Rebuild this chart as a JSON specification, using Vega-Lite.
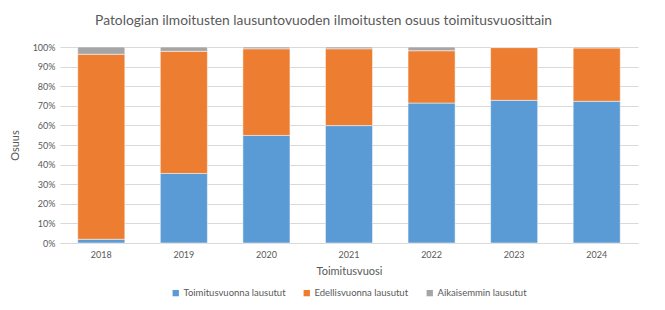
{
  "$schema": "https://vega.github.io/schema/vega-lite/v6.json",
  "width": 578,
  "height": 196,
  "padding": {"left": 9, "top": 14, "right": 27, "bottom": 5},
  "background": "white",
  "title": {
    "text": "Patologian ilmoitusten lausuntovuoden ilmoitusten osuus toimitusvuosittain",
    "font": "Lato",
    "fontSize": 13.8,
    "fontWeight": "normal",
    "color": "#595959",
    "anchor": "middle",
    "frame": "bounds",
    "offset": 15
  },
  "data": {
    "values": [
      {"vuosi": "2018", "ryhma": "Toimitusvuonna lausutut", "j": 1, "osuus": 0.019},
      {"vuosi": "2018", "ryhma": "Edellisvuonna lausutut", "j": 2, "osuus": 0.944},
      {"vuosi": "2018", "ryhma": "Aikaisemmin lausutut", "j": 3, "osuus": 0.037},
      {"vuosi": "2019", "ryhma": "Toimitusvuonna lausutut", "j": 1, "osuus": 0.355},
      {"vuosi": "2019", "ryhma": "Edellisvuonna lausutut", "j": 2, "osuus": 0.623},
      {"vuosi": "2019", "ryhma": "Aikaisemmin lausutut", "j": 3, "osuus": 0.022},
      {"vuosi": "2020", "ryhma": "Toimitusvuonna lausutut", "j": 1, "osuus": 0.549},
      {"vuosi": "2020", "ryhma": "Edellisvuonna lausutut", "j": 2, "osuus": 0.442},
      {"vuosi": "2020", "ryhma": "Aikaisemmin lausutut", "j": 3, "osuus": 0.009},
      {"vuosi": "2021", "ryhma": "Toimitusvuonna lausutut", "j": 1, "osuus": 0.599},
      {"vuosi": "2021", "ryhma": "Edellisvuonna lausutut", "j": 2, "osuus": 0.392},
      {"vuosi": "2021", "ryhma": "Aikaisemmin lausutut", "j": 3, "osuus": 0.009},
      {"vuosi": "2022", "ryhma": "Toimitusvuonna lausutut", "j": 1, "osuus": 0.714},
      {"vuosi": "2022", "ryhma": "Edellisvuonna lausutut", "j": 2, "osuus": 0.267},
      {"vuosi": "2022", "ryhma": "Aikaisemmin lausutut", "j": 3, "osuus": 0.019},
      {"vuosi": "2023", "ryhma": "Toimitusvuonna lausutut", "j": 1, "osuus": 0.728},
      {"vuosi": "2023", "ryhma": "Edellisvuonna lausutut", "j": 2, "osuus": 0.269},
      {"vuosi": "2023", "ryhma": "Aikaisemmin lausutut", "j": 3, "osuus": 0.003},
      {"vuosi": "2024", "ryhma": "Toimitusvuonna lausutut", "j": 1, "osuus": 0.723},
      {"vuosi": "2024", "ryhma": "Edellisvuonna lausutut", "j": 2, "osuus": 0.272},
      {"vuosi": "2024", "ryhma": "Aikaisemmin lausutut", "j": 3, "osuus": 0.005}
    ]
  },
  "mark": {"type": "bar", "stroke": "white", "strokeWidth": 0.5},
  "encoding": {
    "x": {
      "field": "vuosi",
      "type": "ordinal",
      "title": "Toimitusvuosi",
      "scale": {"paddingInner": 0.43, "paddingOuter": 0.215},
      "axis": {
        "labelAngle": 0,
        "ticks": false,
        "domainColor": "#D9D9D9",
        "labelPadding": 7,
        "titlePadding": 6
      }
    },
    "y": {
      "field": "osuus",
      "type": "quantitative",
      "stack": "zero",
      "title": "Osuus",
      "scale": {"domain": [0, 1]},
      "axis": {
        "format": ".0%",
        "values": [0, 0.1, 0.2, 0.3, 0.4, 0.5, 0.6, 0.7, 0.8, 0.9, 1],
        "labelOverlap": false,
        "ticks": false,
        "domain": false,
        "gridColor": "#D9D9D9",
        "labelPadding": 5,
        "titlePadding": 12
      }
    },
    "color": {
      "field": "ryhma",
      "type": "nominal",
      "title": null,
      "sort": ["Toimitusvuonna lausutut", "Edellisvuonna lausutut", "Aikaisemmin lausutut"],
      "scale": {
        "domain": ["Toimitusvuonna lausutut", "Edellisvuonna lausutut", "Aikaisemmin lausutut"],
        "range": ["#5B9BD5", "#ED7D31", "#A5A5A5"]
      },
      "legend": {
        "orient": "bottom",
        "direction": "horizontal",
        "symbolType": "square",
        "symbolSize": 40,
        "symbolStrokeWidth": 0,
        "columnPadding": 16,
        "labelOffset": 3,
        "offset": 12
      }
    },
    "order": {"field": "j", "type": "quantitative"}
  },
  "config": {
    "font": "Lato",
    "view": {"stroke": null},
    "axis": {
      "labelFont": "Lato",
      "labelFontSize": 9,
      "labelColor": "#595959",
      "titleFont": "Lato",
      "titleFontSize": 11,
      "titleFontWeight": "normal",
      "titleColor": "#595959"
    },
    "legend": {
      "labelFont": "Lato",
      "labelFontSize": 9.5,
      "labelColor": "#595959",
      "layout": {"bottom": {"anchor": "middle"}}
    }
  }
}
